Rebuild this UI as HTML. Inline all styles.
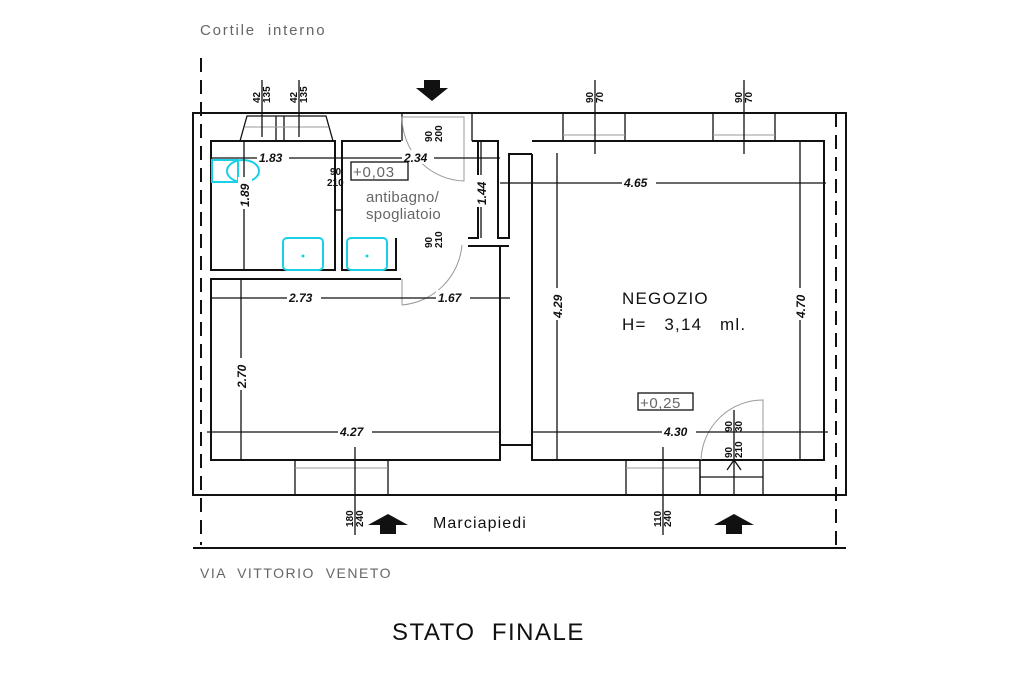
<!DOCTYPE html>
<html><head><meta charset="utf-8"><style>
html,body{margin:0;padding:0;background:#fff;}
svg{display:block}
text{white-space:pre}
.w{stroke:#111;stroke-width:2;fill:none}
.t{stroke:#111;stroke-width:1.3;fill:none}
.g{stroke:#999;stroke-width:1;fill:none}
.d{stroke:#111;stroke-width:2;fill:none;stroke-dasharray:14,8}
.c{stroke:#1ad0e6;stroke-width:2;fill:none}
.dim{font-family:"Liberation Sans",sans-serif;font-size:12px;font-style:italic;font-weight:bold;fill:#111}
.sm{font-family:"Liberation Sans",sans-serif;font-size:10px;font-weight:bold;fill:#111}
.gr{font-family:"Liberation Sans",sans-serif;fill:#666}
</style></head><body>
<svg width="1024" height="682" viewBox="0 0 1024 682" xmlns="http://www.w3.org/2000/svg">
<rect width="1024" height="682" fill="#fff"/>
<text x="200" y="35" class="gr" font-size="15" letter-spacing="1.8">Cortile  interno</text>
<text x="200" y="578" class="gr" font-size="14" letter-spacing="1.5">VIA  VITTORIO  VENETO</text>
<text x="392" y="640" font-family="Liberation Sans,sans-serif" font-size="24" letter-spacing="1.5" fill="#111">STATO  FINALE</text>

<!-- outer -->
<rect x="193" y="113" width="653" height="382" class="w"/>
<line x1="193" y1="548" x2="846" y2="548" class="w"/>
<line x1="201" y1="58" x2="201" y2="545" class="d"/>
<line x1="836" y1="113" x2="836" y2="545" class="d"/>

<!-- bath -->
<rect x="211" y="141" width="124" height="129" class="w"/>
<!-- antibagno -->
<polyline points="401,141 342,141 342,270 396,270 396,238" class="w"/>
<polyline points="472,141 478,141 478,238 468,238" class="w"/>
<polyline points="478,141 498,141 498,238 509,238 509,154 532,154" class="w"/>
<line x1="335" y1="210" x2="342" y2="210" class="t"/>
<!-- lower left room -->
<polyline points="401,279 211,279 211,460 500,460 500,246" class="w"/>
<line x1="468" y1="246" x2="509" y2="246" class="w"/>
<line x1="500" y1="445" x2="532" y2="445" class="w"/>
<line x1="500" y1="246" x2="500" y2="460" class="d"/>
<line x1="532" y1="154" x2="532" y2="460" class="d"/>
<!-- negozio -->
<polyline points="532,141 824,141 824,460 532,460 532,154" class="w"/>

<!-- top windows bath -->
<polyline points="240,141 247,116 326,116 333,141" class="t"/>
<line x1="276" y1="116" x2="276" y2="141" class="t"/><line x1="284" y1="116" x2="284" y2="141" class="t"/>
<line x1="245" y1="127" x2="328" y2="127" class="g"/>
<!-- top door -->
<line x1="402" y1="113" x2="402" y2="141" class="t"/><line x1="472" y1="113" x2="472" y2="141" class="t"/>
<path d="M402,117 L464,117 L464,181 A64,64 0 0 1 402,117" class="g"/>
<!-- negozio windows -->
<rect x="563" y="113" width="62" height="28" class="t"/><line x1="563" y1="135" x2="625" y2="135" class="g"/>
<rect x="713" y="113" width="62" height="28" class="t"/><line x1="713" y1="135" x2="775" y2="135" class="g"/>
<!-- bottom windows -->
<rect x="295" y="460" width="93" height="35" class="t"/><line x1="295" y1="468" x2="388" y2="468" class="g"/>
<rect x="626" y="460" width="74" height="35" class="t"/><line x1="626" y1="468" x2="700" y2="468" class="g"/>
<rect x="700" y="460" width="63" height="35" class="t"/><line x1="700" y1="477" x2="763" y2="477" class="t"/>
<path d="M763,460 L763,400 A62,62 0 0 0 701,460" class="g"/>
<!-- antibagno door -->
<path d="M402,305 A66,66 0 0 0 462,245" class="g"/>
<line x1="402" y1="279" x2="402" y2="305" class="g"/>

<!-- sanitari -->
<rect x="212" y="160" width="26" height="22" class="c"/>
<ellipse cx="243" cy="171" rx="16" ry="11" class="c"/>
<rect x="283" y="238" width="40" height="32" rx="4" class="c"/>
<rect x="347" y="238" width="40" height="32" rx="4" class="c"/>
<circle cx="303" cy="256" r="1.5" fill="#1ad0e6"/><circle cx="367" cy="256" r="1.5" fill="#1ad0e6"/>

<!-- dimension lines -->
<g class="t">
<line x1="211" y1="158" x2="500" y2="158"/>
<line x1="244" y1="141" x2="244" y2="270"/>
<line x1="481" y1="141" x2="481" y2="238"/>
<line x1="211" y1="298" x2="510" y2="298"/>
<line x1="241" y1="279" x2="241" y2="460"/>
<line x1="207" y1="432" x2="500" y2="432"/>
<line x1="532" y1="432" x2="828" y2="432"/>
<line x1="500" y1="183" x2="826" y2="183"/>
<line x1="557" y1="153" x2="557" y2="460"/>
<line x1="800" y1="141" x2="800" y2="460"/>
<line x1="262" y1="80" x2="262" y2="137"/><line x1="299" y1="80" x2="299" y2="137"/>
<line x1="595" y1="80" x2="595" y2="154"/><line x1="744" y1="80" x2="744" y2="154"/>
<line x1="355" y1="447" x2="355" y2="535"/><line x1="663" y1="447" x2="663" y2="535"/>
<line x1="734" y1="410" x2="734" y2="495"/>
<line x1="734" y1="460" x2="727" y2="470"/><line x1="734" y1="460" x2="741" y2="470"/>
</g>
<!-- dim labels -->
<g class="dim">
<rect x="257" y="150" width="32" height="14" fill="#fff"/><text x="259" y="162">1.83</text>
<rect x="402" y="150" width="32" height="14" fill="#fff"/><text x="404" y="162">2.34</text>
<rect x="622" y="175" width="34" height="14" fill="#fff"/><text x="624" y="187">4.65</text>
<rect x="287" y="290" width="34" height="14" fill="#fff"/><text x="289" y="302">2.73</text>
<rect x="436" y="290" width="34" height="14" fill="#fff"/><text x="438" y="302">1.67</text>
<rect x="338" y="424" width="34" height="14" fill="#fff"/><text x="340" y="436">4.27</text>
<rect x="662" y="424" width="34" height="14" fill="#fff"/><text x="664" y="436">4.30</text>
<g transform="translate(249,207) rotate(-90)"><rect x="-2" y="-11" width="32" height="14" fill="#fff"/><text x="0" y="0">1.89</text></g>
<g transform="translate(486,205) rotate(-90)"><rect x="-2" y="-11" width="32" height="14" fill="#fff"/><text x="0" y="0">1.44</text></g>
<g transform="translate(246,388) rotate(-90)"><rect x="-2" y="-11" width="32" height="14" fill="#fff"/><text x="0" y="0">2.70</text></g>
<g transform="translate(562,318) rotate(-90)"><rect x="-2" y="-11" width="32" height="14" fill="#fff"/><text x="0" y="0">4.29</text></g>
<g transform="translate(805,318) rotate(-90)"><rect x="-2" y="-11" width="32" height="14" fill="#fff"/><text x="0" y="0">4.70</text></g>
</g>
<g class="sm">
<g transform="translate(260,103) rotate(-90)"><text>42</text></g><g transform="translate(270,103) rotate(-90)"><text>135</text></g>
<g transform="translate(297,103) rotate(-90)"><text>42</text></g><g transform="translate(307,103) rotate(-90)"><text>135</text></g>
<g transform="translate(593,103) rotate(-90)"><text>90</text></g><g transform="translate(603,103) rotate(-90)"><text>70</text></g>
<g transform="translate(742,103) rotate(-90)"><text>90</text></g><g transform="translate(752,103) rotate(-90)"><text>70</text></g>
<g transform="translate(432,142) rotate(-90)"><text>90</text></g><g transform="translate(442,142) rotate(-90)"><text>200</text></g>
<g transform="translate(432,248) rotate(-90)"><text>90</text></g><g transform="translate(442,248) rotate(-90)"><text>210</text></g>
<g transform="translate(353,527) rotate(-90)"><text>180</text></g><g transform="translate(363,527) rotate(-90)"><text>240</text></g>
<g transform="translate(661,527) rotate(-90)"><text>110</text></g><g transform="translate(671,527) rotate(-90)"><text>240</text></g>
<g transform="translate(732,432) rotate(-90)"><text>90</text></g><g transform="translate(742,432) rotate(-90)"><text>30</text></g>
<g transform="translate(732,458) rotate(-90)"><text>90</text></g><g transform="translate(742,458) rotate(-90)"><text>210</text></g>
<text x="330" y="175">90</text><text x="327" y="186">210</text>
</g>

<rect x="351" y="162" width="57" height="18" class="t"/>
<text x="353" y="177" class="gr" font-size="15" letter-spacing="0.8">+0,03</text>
<rect x="638" y="393" width="55" height="17" class="t"/>
<text x="640" y="408" class="gr" font-size="15" letter-spacing="0.6">+0,25</text>
<text x="366" y="202" class="gr" font-size="15" letter-spacing="0.3">antibagno/</text>
<text x="366" y="219" class="gr" font-size="15" letter-spacing="0.3">spogliatoio</text>

<text x="622" y="304" font-family="Liberation Sans,sans-serif" font-size="17" letter-spacing="1.2" fill="#111">NEGOZIO</text>
<text x="622" y="330" font-family="Liberation Sans,sans-serif" font-size="17" letter-spacing="1.2" fill="#111">H=   3,14   ml.</text>
<text x="433" y="528" font-family="Liberation Sans,sans-serif" font-size="16" letter-spacing="1.1" fill="#111">Marciapiedi</text>

<!-- arrows -->
<polygon points="424,80 440,80 440,88 448,88 432,101 416,88 424,88" fill="#111"/>
<polygon points="380,534 396,534 396,525 408,525 388,514 368,525 380,525" fill="#111"/>
<polygon points="726,534 742,534 742,525 754,525 734,514 714,525 726,525" fill="#111"/>
</svg>
</body></html>
